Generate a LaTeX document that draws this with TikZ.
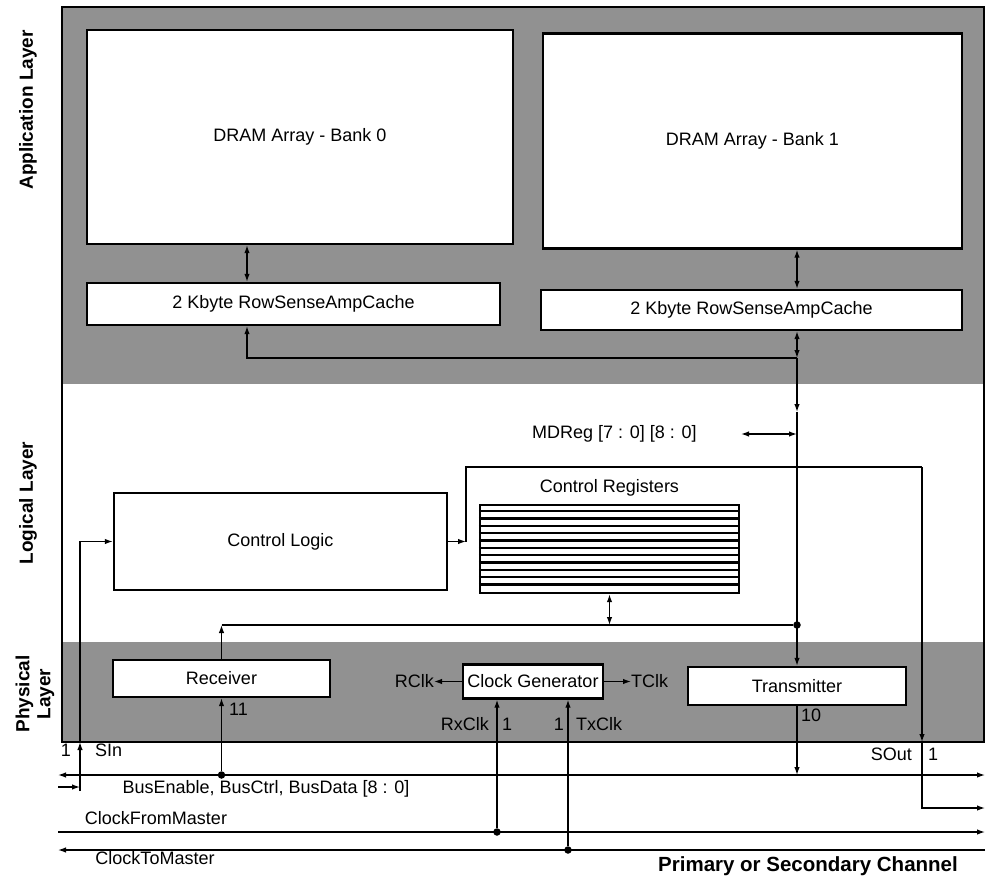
\documentclass[tikz,border=0pt]{standalone}
\usepackage{fontspec}
\setmainfont{Liberation Sans}
\usetikzlibrary{positioning,arrows.meta}
\tikzset{
  >={Latex[length=8pt,width=5.5pt]},
  blk/.style={draw,fill=white,line width=2.4pt,inner sep=0pt,font=\fontsize{18}{21}\selectfont},
  lbl/.style={inner sep=0pt,font=\fontsize{18}{21}\selectfont},
  layer/.style={inner sep=0pt,rotate=90,align=center,font=\fontsize{19}{21}\selectfont\bfseries},
  wire/.style={line width=1.3pt},
  dot/.style={circle,fill,inner sep=0pt,minimum size=7.5pt},
}
\begin{document}
\begin{tikzpicture}[x=1pt,y=-1pt]
  \useasboundingbox (0,0) rectangle (988,886);
  % shaded bands: application and physical layer
  \fill[black!43] (62,7) rectangle (984,384);
  \fill[black!43] (62,642) rectangle (984,742);
  \draw[line width=2.6pt] (62,7) rectangle (984,742);
  \node[layer] (applbl) at (28,110) {Application Layer};
  \node[layer] (loglbl) at (28,503) {Logical Layer};
  \node[layer] (phylbl) at (35,694) {Physical\\Layer};

  % application layer
  \node[blk,minimum width=426pt,minimum height=214pt] (bank0) at (300,137) {DRAM Array - Bank 0};
  \node[blk,minimum width=419pt,minimum height=215pt] (bank1) at (752.5,141) {DRAM Array - Bank 1};
  \node[blk,minimum width=413pt,minimum height=42pt] (cache0) at (293.5,304) {2 Kbyte RowSenseAmpCache};
  \node[blk,minimum width=421pt,minimum height=40pt] (cache1) at (751.5,310) {2 Kbyte RowSenseAmpCache};
  \coordinate (c0) at (247,358);
  \coordinate (j1) at (797,358);
  \coordinate (j2) at (797,412);
  \draw[wire,<->] (bank0.south -| c0) -- (cache0.north -| c0);
  \draw[wire,<->] (bank1.south -| j1) -- (cache1.north -| j1);
  \draw[wire,<-] (cache0.south -| c0) -- (c0) -- (j1);
  \draw[wire,<->] (cache1.south -| j1) -- (j1);
  \draw[wire,->] (j1) -- (j2);

  % logical layer
  \node[lbl,anchor=west] (mdreg) at (532,434) {MDReg [7 : 0] [8 : 0]};
  \coordinate (mdl) at (741,434);
  \draw[wire,<->] (mdl) -- (mdl -| j1);
  \node[blk,minimum width=333pt,minimum height=97pt] (cl) at (280.5,541.5) {Control Logic};
  \node[draw,line width=2.4pt,inner sep=0pt,minimum width=259pt,minimum height=88pt] (creg) at (609.5,549) {};
  \node[lbl,above=7pt of creg] (creglbl) {Control Registers};
  \foreach \i in {1,...,11}
    \draw[line width=2.2pt] ([yshift=-\i*7.33pt]creg.north west) -- ([yshift=-\i*7.33pt]creg.north east);
  \coordinate (o1) at (466,467);
  \coordinate (so) at (922,467);
  \coordinate (sob) at (922,742);
  \coordinate (soe) at (985,808);
  \draw[wire,->] (cl.east) -- (cl.east -| o1);
  \draw[wire] (cl.east -| o1) -- (o1) -- (so);
  \draw[wire,->] (so) -- (sob);
  \draw[wire,->] (sob) |- (soe);

  % physical layer
  \node[blk,minimum width=217pt,minimum height=37pt] (rx) at (221.5,678.5) {Receiver};
  \node[blk,minimum width=140pt,minimum height=34pt] (ck) at (533,681.5) {Clock Generator};
  \node[blk,minimum width=218pt,minimum height=38pt] (tx) at (797,686) {Transmitter};
  \node[lbl,anchor=east] (rclk) at (434,681.5) {RClk};
  \node[lbl,anchor=west] (tclk) at (631,681.5) {TClk};
  \draw[wire,->] (ck.west) -- (rclk.east);
  \draw[wire,->] (ck.east) -- (tclk.west);
  \draw[wire,->] (j2) -- (tx.north);
  \node[dot] (d0) at (797,625) {};
  \draw[wire,->] (rx.north) -- (rx.north |- d0);
  \draw[wire] (rx.north |- d0) -- (d0);
  \draw[wire,<->] (creg.south) -- (creg.south |- d0);

  % channel wires
  \coordinate (bl) at (58,775);
  \coordinate (br) at (985,775);
  \draw[wire,<->] (bl) -- (br);
  \node[dot] (d1) at (221.5,775) {};
  \draw[wire,->] (d1) -- (rx.south);
  \draw[wire,->] (tx.south) -- (tx.south |- br);
  \coordinate (sinl) at (58,787);
  \coordinate (sinb) at (80,791);
  \coordinate (sint) at (80,742);
  \draw[wire,->] (sinl) -- (sinl -| sinb);
  \draw[wire,->] (sinb) -- (sint);
  \draw[wire,->] (sint) |- (cl.west);
  \coordinate (cfl) at (58,832);
  \coordinate (cfr) at (985,832);
  \draw[wire,->] (cfl) -- (cfr);
  \node[dot] (d2) at (497,832) {};
  \draw[wire,->] (d2) -- (d2 |- ck.south);
  \coordinate (ctr) at (985,850);
  \coordinate (ctl) at (58,850);
  \draw[wire,->] (ctr) -- (ctl);
  \node[dot] (d3) at (568,850) {};
  \draw[wire,->] (d3) -- (d3 |- ck.south);

  % wire labels
  \node[lbl] (n1s) at (66,750) {1};
  \node[lbl,anchor=west] (sinlbl) at (95,750) {SIn};
  \node[lbl] (buslbl) at (266,789) {BusEnable, BusCtrl, BusData [8 : 0]};
  \node[lbl] (cfmlbl) at (156,818) {ClockFromMaster};
  \node[lbl] (ctmlbl) at (155,858) {ClockToMaster};
  \node[lbl,anchor=west] (n11) at (229,709) {11};
  \node[lbl,anchor=east] (rxclk) at (489,724) {RxClk};
  \node[lbl,anchor=west] (n1r) at (502,724) {1};
  \node[lbl,anchor=east] (n1t) at (564,724) {1};
  \node[lbl,anchor=west] (txclk) at (576,724) {TxClk};
  \node[lbl,anchor=west] (n10) at (801,715) {10};
  \node[lbl,anchor=east] (soutlbl) at (912,754) {SOut};
  \node[lbl,anchor=west] (n1o) at (928,754) {1};
  \node[inner sep=0pt,font=\fontsize{20.5}{22}\selectfont\bfseries] (chan) at (808,866) {Primary or Secondary Channel};
\end{tikzpicture}
\end{document}
